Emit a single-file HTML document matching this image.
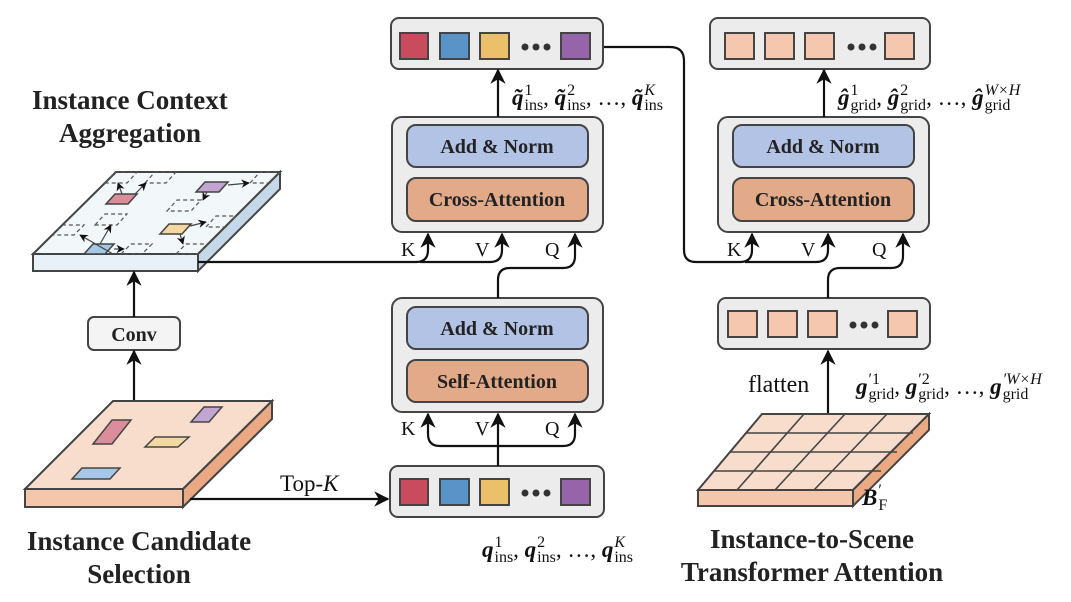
<!DOCTYPE html>
<html><head><meta charset="utf-8"><style>
body{margin:0;background:#fff;}
svg{display:block;font-family:"Liberation Serif",serif;}
.t{font-weight:bold;font-size:27px;fill:#222;}
.b{font-weight:bold;font-size:20px;fill:#222;}
.m{font-size:20px;fill:#111;}
.lab{position:absolute;font-family:"Liberation Serif",serif;font-size:23px;color:#111;white-space:nowrap;line-height:1;}
.v{font-weight:bold;font-style:italic;}
.ss{display:inline-block;position:relative;font-size:16px;vertical-align:-5px;margin-left:1px;line-height:1;}
.sp{position:absolute;left:0;top:-15px;}
.sp i,.sp{font-style:normal;}
.it{font-style:italic;}
</style></head><body>
<div style="position:relative;width:1071px;height:602px;overflow:hidden">
<svg width="1071" height="602" viewBox="0 0 1071 602" xmlns="http://www.w3.org/2000/svg">
<defs>
<marker id="a" viewBox="0 0 10 10" refX="9" refY="5" markerWidth="7" markerHeight="7" orient="auto-start-reverse"><path d="M0,0 L10,5 L0,10 L3,5 z" fill="#111"/></marker>
</defs>
<g stroke="#444" stroke-width="2">
<rect x="391" y="18" width="212" height="51" rx="8" fill="#ececec"/>
<rect x="400" y="33" width="28" height="26" fill="#c94b5e"/>
<rect x="440" y="33" width="29" height="26" fill="#5a93c8"/>
<rect x="480" y="33" width="29" height="26" fill="#ebc06a"/>
<rect x="561" y="33" width="29" height="26" fill="#9664a8"/>
<rect x="710" y="18" width="220" height="51" rx="8" fill="#ececec"/>
<rect x="725" y="33" width="29" height="26" fill="#f4c7ae"/>
<rect x="765" y="33" width="29" height="26" fill="#f4c7ae"/>
<rect x="805" y="33" width="29" height="26" fill="#f4c7ae"/>
<rect x="885" y="33" width="29" height="26" fill="#f4c7ae"/>
<rect x="392" y="117" width="211" height="115" rx="10" fill="#ececec"/>
<rect x="407" y="125" width="181" height="42" rx="9" fill="#b3c3e6"/>
<rect x="407" y="178" width="181" height="43" rx="9" fill="#e3aa8a"/>
<rect x="718" y="117" width="211" height="115" rx="10" fill="#ececec"/>
<rect x="733" y="125" width="181" height="42" rx="9" fill="#b3c3e6"/>
<rect x="733" y="178" width="181" height="43" rx="9" fill="#e3aa8a"/>
<rect x="392" y="298" width="211" height="114" rx="10" fill="#ececec"/>
<rect x="407" y="307" width="181" height="42" rx="9" fill="#b3c3e6"/>
<rect x="407" y="360" width="181" height="42" rx="9" fill="#e3aa8a"/>
<rect x="390" y="466" width="214" height="51" rx="8" fill="#ececec"/>
<rect x="400" y="479" width="28" height="26" fill="#c94b5e"/>
<rect x="440" y="479" width="29" height="26" fill="#5a93c8"/>
<rect x="480" y="479" width="29" height="26" fill="#ebc06a"/>
<rect x="561" y="479" width="29" height="26" fill="#9664a8"/>
<rect x="718" y="298" width="212" height="51" rx="8" fill="#ececec"/>
<rect x="728" y="311" width="29" height="26" fill="#f4c7ae"/>
<rect x="768" y="311" width="29" height="26" fill="#f4c7ae"/>
<rect x="808" y="311" width="29" height="26" fill="#f4c7ae"/>
<rect x="888" y="311" width="29" height="26" fill="#f4c7ae"/>
<rect x="88" y="317" width="92" height="33" rx="6" fill="#f4f4f4"/>
<polygon points="33,254 116,172 280,172 198,254" fill="#f2f7fa"/>
<polygon points="198,254 280,172 280,189 198,271" fill="#c4d8ea"/>
<rect x="33" y="254" width="165" height="17" fill="#e8f0f8"/>
<polygon points="25,489 113,401 272,401 183,489" fill="#f9ddcc"/>
<polygon points="183,489 272,401 272,419 183,507" fill="#eaa982"/>
<rect x="25" y="489" width="158" height="18" fill="#f4c6ab"/>
<polygon points="698,490 762,414 929,414 853,490" fill="#f9ddcc"/>
<polygon points="853,490 929,414 929,430 853,506" fill="#eaa982"/>
<rect x="698" y="490" width="155" height="16" fill="#f4c6ab"/>
</g>
<g stroke="#444" stroke-width="1.6" fill="none">
<line x1="746" y1="433" x2="913" y2="433"/>
<line x1="730" y1="452" x2="897" y2="452"/>
<line x1="714" y1="471" x2="881" y2="471"/>
<line x1="804" y1="414" x2="737" y2="490"/>
<line x1="845" y1="414" x2="775" y2="490"/>
<line x1="887" y1="414" x2="814" y2="490"/>
</g>
<g stroke="#444" stroke-width="1.5">
<polygon points="93,444 112,420 131,420 112,444" fill="#dc8d9c"/>
<polygon points="191,422 204,407 222,407 209,422" fill="#c3a5d2"/>
<polygon points="145,447 155,437 189,437 178,447" fill="#f3d8a0"/>
<polygon points="72,479 82,468 120,468 110,479" fill="#a6c8e6"/>
<polygon points="106,204 115,194 137,194 128,204" fill="#dc8d9c"/>
<polygon points="196,192 205,182 228,182 219,192" fill="#c3a5d2"/>
<polygon points="160,234 169,224 191,224 182,234" fill="#f3d8a0"/>
<polygon points="84,254 93,244 114,244 105,254" fill="#a6c8e6"/>
</g>
<g stroke="#555" stroke-width="1.2" stroke-dasharray="4,3" fill="none">
<polygon points="105,183 115,172 137,172 127,183"/>
<polygon points="145,183 155,172 176,172 166,183"/>
<polygon points="167,211 177,200 201,200 191,211"/>
<polygon points="52,235 62,225 84,225 74,235"/>
<polygon points="95,225 105,214 127,214 117,225"/>
<polygon points="121,254 131,244 152,244 142,254"/>
<polygon points="176,254 186,244 208,244 198,254"/>
<polygon points="206,227 216,216 236,216 226,227"/>
<polygon points="250,183 260,172 280,172 270,183"/>
</g>
<g stroke="#444" stroke-width="1.2" fill="none" marker-end="url(#a)">
<line x1="113" y1="254" x2="80" y2="235"/>
<line x1="100" y1="244" x2="111" y2="225"/>
<line x1="114" y1="249" x2="124" y2="249"/>
<line x1="122" y1="194" x2="118" y2="183"/>
<line x1="135" y1="194" x2="146" y2="183"/>
<line x1="228" y1="185" x2="249" y2="183"/>
<line x1="207" y1="192" x2="203" y2="200"/>
<line x1="190" y1="226" x2="206" y2="222"/>
<line x1="180" y1="234" x2="183" y2="244"/>
</g>
<g stroke="#111" stroke-width="2.2" fill="none">
<path d="M498,117 L498,70" marker-end="url(#a)"/>
<path d="M824,117 L824,70" marker-end="url(#a)"/>
<path d="M134,400 L134,351" marker-end="url(#a)"/>
<path d="M134,317 L134,272" marker-end="url(#a)"/>
<path d="M190,499 L388,499" marker-end="url(#a)"/>
<path d="M828,413 L828,351" marker-end="url(#a)"/>
<path d="M198,262 L416,262 Q428,262 428,250 L428,234" marker-end="url(#a)"/>
<path d="M420,262 L490,262 Q502,262 502,250 L502,234" marker-end="url(#a)"/>
<path d="M498,298 L498,280 Q498,268 510,268 L563,268 Q575,268 575,256 L575,234" marker-end="url(#a)"/>
<path d="M498,466 L498,414" marker-end="url(#a)"/>
<path d="M498,446 L440,446 Q428,446 428,434 L428,414" marker-end="url(#a)"/>
<path d="M498,446 L563,446 Q575,446 575,434 L575,414" marker-end="url(#a)"/>
<path d="M604,47 L670,47 Q684,47 684,61 L684,250 Q684,262 696,262 L740,262 Q752,262 752,250 L752,234" marker-end="url(#a)"/>
<path d="M745,262 L816,262 Q828,262 828,250 L828,234" marker-end="url(#a)"/>
<path d="M828,298 L828,280 Q828,268 840,268 L891,268 Q903,268 903,256 L903,234" marker-end="url(#a)"/>
</g>
<g fill="#333">
<circle cx="525" cy="47" r="3.5"/><circle cx="536" cy="47" r="3.5"/><circle cx="547" cy="47" r="3.5"/>
<circle cx="525" cy="493" r="3.5"/><circle cx="536" cy="493" r="3.5"/><circle cx="547" cy="493" r="3.5"/>
<circle cx="851" cy="47" r="3.5"/><circle cx="862" cy="47" r="3.5"/><circle cx="873" cy="47" r="3.5"/>
<circle cx="853" cy="325" r="3.5"/><circle cx="864" cy="325" r="3.5"/><circle cx="875" cy="325" r="3.5"/>
</g>
<text class="b" x="497" y="153" text-anchor="middle">Add &amp; Norm</text>
<text class="b" x="497" y="206" text-anchor="middle">Cross-Attention</text>
<text class="b" x="823" y="153" text-anchor="middle">Add &amp; Norm</text>
<text class="b" x="823" y="206" text-anchor="middle">Cross-Attention</text>
<text class="b" x="497" y="335" text-anchor="middle">Add &amp; Norm</text>
<text class="b" x="497" y="388" text-anchor="middle">Self-Attention</text>
<text class="b" x="134" y="341" text-anchor="middle">Conv</text>
<text class="m" x="401" y="256">K</text><text class="m" x="475" y="256">V</text><text class="m" x="545" y="256">Q</text>
<text class="m" x="727" y="256">K</text><text class="m" x="801" y="256">V</text><text class="m" x="872" y="256">Q</text>
<text class="m" x="401" y="435">K</text><text class="m" x="475" y="435">V</text><text class="m" x="545" y="435">Q</text>
<text class="m" x="280" y="491" style="font-size:23px">Top-<tspan font-style="italic">K</tspan></text>
<text class="m" x="748" y="392" style="font-size:24px">flatten</text>
<text class="t" x="32" y="109">Instance Context</text>
<text class="t" x="59" y="142">Aggregation</text>
<text class="t" x="139" y="550" text-anchor="middle">Instance Candidate</text>
<text class="t" x="139" y="583" text-anchor="middle">Selection</text>
<text class="t" x="812" y="548" text-anchor="middle">Instance-to-Scene</text>
<text class="t" x="812" y="581" text-anchor="middle">Transformer Attention</text>
</svg>
<div class="lab" style="left:512px;top:86px"><span class="v">q̃</span><span class="ss"><span class="sp">1</span>ins</span>, <span class="v">q̃</span><span class="ss"><span class="sp">2</span>ins</span>, …, <span class="v">q̃</span><span class="ss"><span class="sp it">K</span>ins</span></div>
<div class="lab" style="left:838px;top:86px"><span class="v">ĝ</span><span class="ss"><span class="sp">1</span>grid</span>, <span class="v">ĝ</span><span class="ss"><span class="sp">2</span>grid</span>, …, <span class="v">ĝ</span><span class="ss"><span class="sp it">W×H</span>grid</span></div>
<div class="lab" style="left:856px;top:375px"><span class="v">g</span><span class="ss"><span class="sp">′1</span>grid</span>, <span class="v">g</span><span class="ss"><span class="sp">′2</span>grid</span>, …, <span class="v">g</span><span class="ss"><span class="sp it">′W×H</span>grid</span></div>
<div class="lab" style="left:482px;top:538px"><span class="v">q</span><span class="ss"><span class="sp">1</span>ins</span>, <span class="v">q</span><span class="ss"><span class="sp">2</span>ins</span>, …, <span class="v">q</span><span class="ss"><span class="sp it">K</span>ins</span></div>
<div class="lab" style="left:862px;top:486px"><span class="v">B</span><span class="ss"><span class="sp">′</span>F</span></div>
</div>
</body></html>
